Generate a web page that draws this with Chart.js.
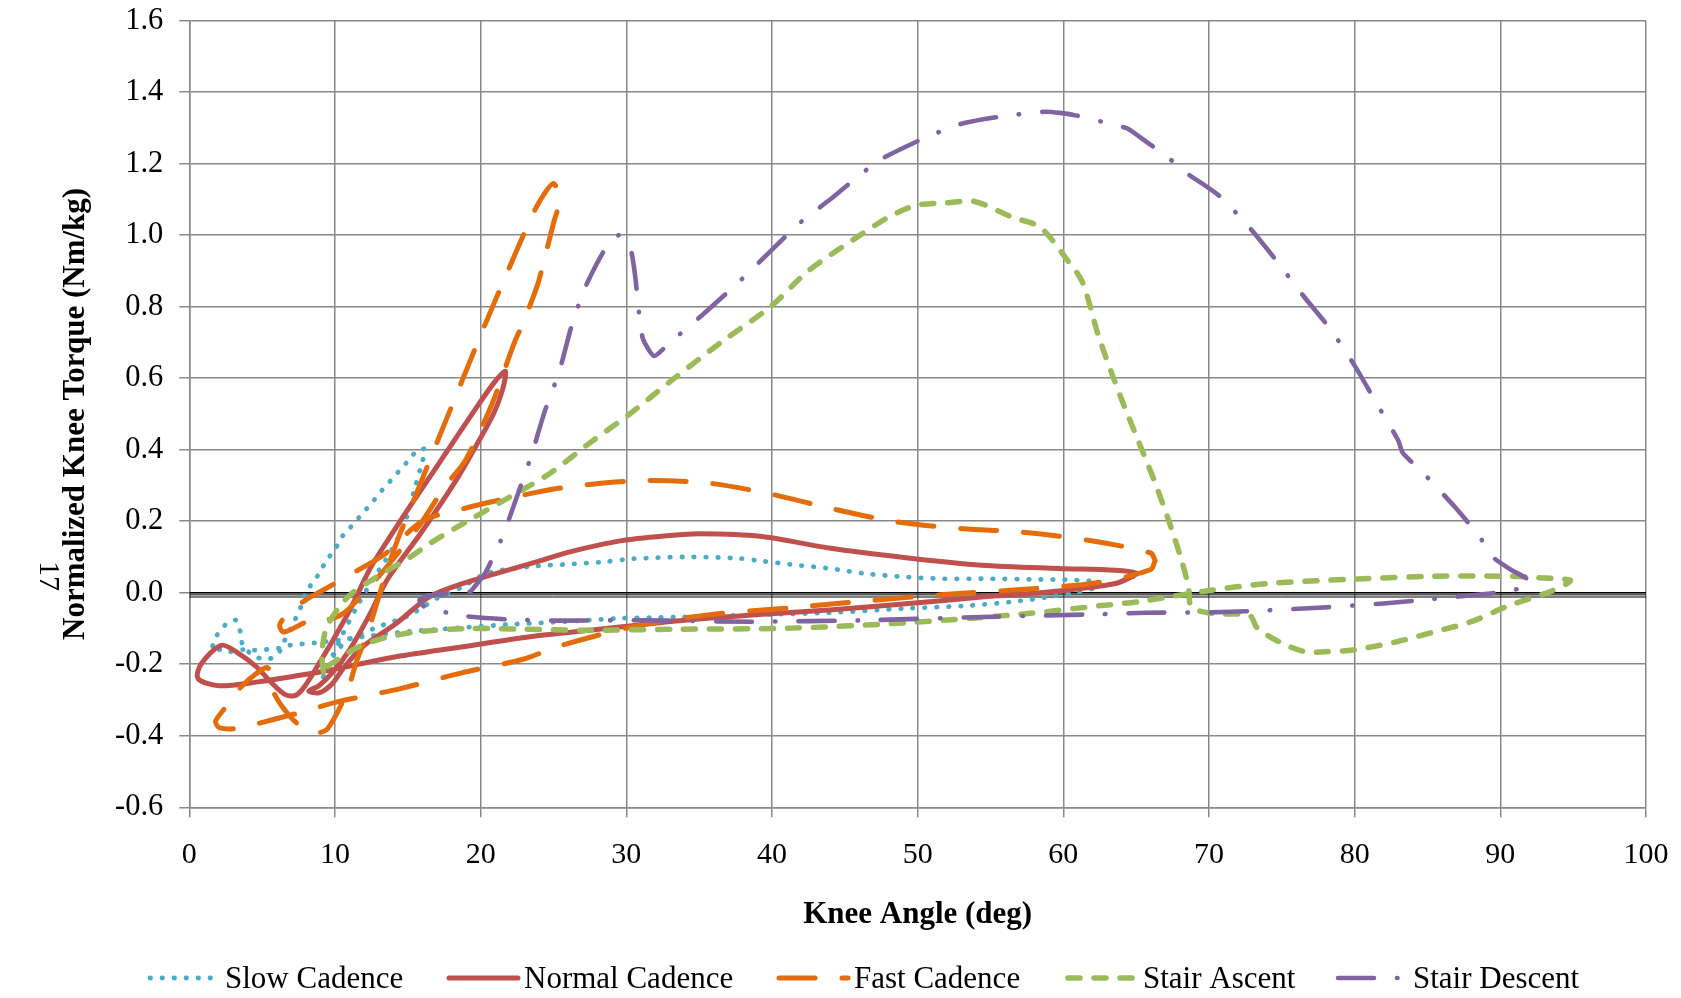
<!DOCTYPE html>
<html>
<head>
<meta charset="utf-8">
<script src="https://cdn.jsdelivr.net/npm/chart.js@4.4.1/dist/chart.umd.min.js"></script>
<style>
html,body{margin:0;padding:0;background:#ffffff;overflow:hidden}
#wrap{position:relative;width:1681px;height:998px}
canvas{display:block}
</style>
</head>
<body>
<div id="wrap"><canvas id="c" width="1681" height="998"></canvas></div>
<script>
// ---------- DATA ----------
const seriesNames = ["Slow Cadence", "Normal Cadence", "Fast Cadence", "Stair Ascent", "Stair Descent"];
const xTickValues = [0,10,20,30,40,50,60,70,80,90,100];
const yTickValues = [-0.6,-0.4,-0.2,0.0,0.2,0.4,0.6,0.8,1.0,1.2,1.4,1.6];
const xAxisTitle = "Knee Angle (deg)";
const yAxisTitle = "Normalized Knee Torque (Nm/kg)";
const pageNumber = "17";

const slowAngle = [1.6,1.9,2.5,3.2,3.5,3.7,4.5,5.3,6.1,6.5,6.9,7.3,7.7,8.0,8.5,9.0,9.4,10.0,10.4,11.0,11.6,12.2,12.7,13.3,13.9,14.5,15.1,15.7,16.2,16.0,15.5,15.0,14.3,13.5,12.5,11.5,10.6,9.8,9.2,10.0,11.0,13.0,15.1,17.2,18.8,20.4,23.4,25.7,28.4,30.5,34.2,37.7,39.4,41.3,43.9,46.5,49.2,51.8,54.4,58.4,61.8,62.6,60.7,57.0,53.1,49.2,43.9,38.6,33.4,29.4,25.7,22.3,18.6,14.9,12.5,10.5,8.7,6.9,6.1,5.2,4.2,3.7,2.5,1.6];
const slowTorque = [-0.149,-0.119,-0.089,-0.077,-0.109,-0.15,-0.177,-0.187,-0.17,-0.137,-0.105,-0.072,-0.035,0.0,0.03,0.059,0.09,0.12,0.152,0.18,0.208,0.236,0.26,0.29,0.317,0.345,0.372,0.40,0.40,0.367,0.295,0.22,0.15,0.093,0.03,-0.04,-0.11,-0.18,-0.235,-0.17,-0.13,-0.095,-0.063,-0.011,0.017,0.054,0.073,0.079,0.086,0.095,0.1,0.096,0.088,0.079,0.068,0.053,0.044,0.039,0.039,0.037,0.033,0.02,0.0,-0.023,-0.037,-0.044,-0.056,-0.062,-0.068,-0.072,-0.081,-0.088,-0.098,-0.109,-0.12,-0.131,-0.14,-0.147,-0.156,-0.159,-0.161,-0.159,-0.165,-0.149];

const normalAngle = [64.8,63.5,59.7,54.4,49.2,43.9,38.6,33.4,27.5,23.4,18.8,14.2,9.6,7.6,4.6,2.0,0.6,0.8,2.2,3.4,4.6,5.7,6.6,7.3,7.9,8.9,9.9,11.0,11.6,12.5,14.7,17.0,19.3,20.9,21.7,21.5,20.9,19.8,18.2,15.9,13.6,12.4,11.0,9.9,8.9,8.2,8.9,9.8,10.6,11.9,14.2,16.5,18.8,21.1,24.3,26.2,29.6,33.0,35.0,39.2,43.9,49.2,54.4,59.7,63.6,65.0,64.8];
const normalTorque = [0.046,0.025,0.005,-0.012,-0.031,-0.048,-0.062,-0.079,-0.105,-0.123,-0.151,-0.179,-0.217,-0.231,-0.25,-0.26,-0.24,-0.2,-0.147,-0.17,-0.207,-0.254,-0.285,-0.287,-0.263,-0.198,-0.13,-0.05,0.0,0.074,0.214,0.353,0.493,0.586,0.619,0.567,0.502,0.419,0.307,0.167,0.037,-0.06,-0.16,-0.22,-0.26,-0.275,-0.28,-0.255,-0.21,-0.151,-0.086,-0.011,0.026,0.054,0.092,0.115,0.145,0.16,0.165,0.158,0.125,0.098,0.077,0.068,0.063,0.055,0.046];

const fastAngle = [66.3,66.0,62.3,57.1,51.8,46.5,41.3,36.0,30.7,25.5,22.9,18.7,14.5,10.3,7.6,6.1,3.3,2.1,1.8,2.5,3.4,4.6,5.4,5.8,7.0,8.1,8.8,9.5,10.8,11.5,12.3,13.5,14.3,15.1,16.7,18.2,20.0,21.7,23.4,24.1,25.0,25.4,25.0,24.3,23.9,22.9,22.3,20.9,19.7,18.8,17.6,16.0,14.5,13.3,12.0,10.5,9.0,8.4,6.5,6.2,6.9,8.0,9.4,10.8,12.4,13.5,16.0,18.8,22.0,25.5,30.7,35.5,39.9,43.9,48.6,53.1,57.1,61.8,66.0,66.3];
const fastTorque = [0.09,0.065,0.028,0.009,-0.005,-0.023,-0.042,-0.06,-0.093,-0.148,-0.186,-0.224,-0.268,-0.304,-0.335,-0.351,-0.379,-0.378,-0.36,-0.32,-0.27,-0.226,-0.21,-0.28,-0.35,-0.385,-0.392,-0.38,-0.28,-0.19,-0.105,0.054,0.148,0.227,0.39,0.54,0.72,0.884,1.042,1.098,1.144,1.098,1.033,0.921,0.86,0.753,0.698,0.54,0.43,0.36,0.3,0.2,0.12,0.06,0.0,-0.06,-0.08,-0.075,-0.11,-0.09,-0.053,-0.02,0.012,0.045,0.082,0.11,0.2,0.235,0.265,0.293,0.313,0.307,0.276,0.237,0.198,0.179,0.17,0.146,0.111,0.09];

const ascentAngle = [9.2,9.1,9.4,10.2,11.2,12.5,13.5,15.0,16.6,19.3,22.1,24.8,27.5,30.3,33.0,36.5,39.9,42.5,45.5,48.0,49.9,52.0,53.9,56.5,58.4,60.2,61.3,62.4,63.4,64.2,65.2,66.2,67.2,68.1,68.6,68.8,70.3,72.8,73.3,74.8,76.6,77.9,79.9,82.9,85.5,88.0,90.6,93.1,94.5,94.8,93.1,90.6,85.5,79.9,74.1,70.0,65.2,62.6,57.1,49.2,41.3,33.4,27.0,22.9,19.2,15.7,13.7,12.5,11.4,10.5,9.6,9.2];
const ascentTorque = [-0.22,-0.17,-0.1,-0.045,0.0,0.035,0.06,0.095,0.14,0.205,0.27,0.335,0.419,0.502,0.59,0.7,0.8,0.9,0.985,1.05,1.083,1.09,1.094,1.05,1.022,0.934,0.869,0.72,0.605,0.52,0.419,0.318,0.206,0.093,0.015,-0.04,-0.058,-0.064,-0.098,-0.137,-0.165,-0.165,-0.16,-0.137,-0.109,-0.081,-0.036,-0.002,0.024,0.035,0.041,0.046,0.046,0.038,0.026,0.006,-0.025,-0.036,-0.06,-0.084,-0.099,-0.102,-0.105,-0.102,-0.1,-0.109,-0.123,-0.137,-0.156,-0.179,-0.203,-0.22];

const descentAngle = [19.3,20.3,21.5,22.5,23.5,24.4,25.4,26.2,27.1,28.5,29.5,30.3,30.6,31.1,31.9,33.0,35.2,37.6,39.6,41.8,44.0,45.2,47.4,50.4,52.9,55.5,58.8,60.7,63.4,64.4,65.8,67.2,68.3,70.7,72.8,74.6,76.5,78.3,80.0,81.4,83.0,83.3,84.7,86.9,88.6,89.5,90.7,91.9,92.0,91.0,89.3,85.0,82.0,77.5,73.0,70.0,65.7,62.6,54.4,46.5,38.6,30.7,25.4,22.0,19.0,18.1,16.3,15.8,16.5,19.3];
const descentTorque = [0.003,0.054,0.157,0.27,0.386,0.507,0.619,0.74,0.847,0.958,1.0,0.958,0.888,0.716,0.662,0.7,0.776,0.864,0.943,1.03,1.10,1.14,1.21,1.27,1.31,1.33,1.345,1.336,1.309,1.298,1.258,1.217,1.178,1.11,1.02,0.93,0.829,0.739,0.635,0.537,0.425,0.391,0.335,0.239,0.155,0.099,0.065,0.037,0.017,0.009,-0.002,-0.019,-0.03,-0.042,-0.051,-0.055,-0.056,-0.06,-0.068,-0.077,-0.081,-0.077,-0.078,-0.075,-0.066,-0.058,-0.045,-0.02,-0.008,0.003];

// black reference lines drawn along zero torque
const zeroLineAngle = [0, 100];
const zeroLineLevels = [0.0, -0.006, -0.012];

// ---------- STYLES ----------
const FONT = "'Liberation Serif','Times New Roman',serif";
const seriesStyles = [
  {color:'#4BACC6', width:4.8, dash:[0.5,11.5], tension:0.3},
  {color:'#C0504D', width:5,   dash:[],        tension:0.3},
  {color:'#E46C0A', width:5,   dash:[36,27],   tension:0.3},
  {color:'#9BBB59', width:5.5, dash:[12,14],   tension:0.3},
  {color:'#8064A2', width:4.6, dash:[36,23,0.5,23], tension:0.2}
];
const seriesAngles = [slowAngle, normalAngle, fastAngle, ascentAngle, descentAngle];
const seriesTorques = [slowTorque, normalTorque, fastTorque, ascentTorque, descentTorque];

const toPoints = (xs, ys) => xs.map((x, i) => ({x: x, y: ys[i]}));

const datasets = seriesNames.map((name, i) => ({
  label: name,
  data: toPoints(seriesAngles[i], seriesTorques[i]),
  showLine: true,
  borderColor: seriesStyles[i].color,
  backgroundColor: seriesStyles[i].color,
  borderWidth: seriesStyles[i].width,
  borderDash: seriesStyles[i].dash,
  borderCapStyle: 'round',
  borderJoinStyle: 'round',
  tension: seriesStyles[i].tension,
  pointRadius: 0,
  pointHoverRadius: 0,
  fill: false,
  order: 5 - i
}));

zeroLineLevels.forEach((lvl, k) => {
  datasets.push({
    label: 'zero' + k,
    data: toPoints(zeroLineAngle, zeroLineAngle.map(() => lvl)),
    showLine: true,
    borderColor: '#000000',
    borderWidth: k === 0 ? 1.6 : 1,
    pointRadius: 0,
    tension: 0,
    fill: false,
    order: 10
  });
});

// ---------- PLUGINS ----------
const legendTextX = [225, 524, 854, 1143, 1413];
const legendPlugin = {
  id: 'customLegend',
  afterDraw(chart) {
    const ctx = chart.ctx;
    ctx.save();
    seriesNames.forEach((name, i) => {
      const st = seriesStyles[i];
      const tx = legendTextX[i];
      const x0 = tx - 75, x1 = tx - 6, ly = 978;
      ctx.beginPath();
      ctx.strokeStyle = st.color;
      ctx.lineWidth = st.width;
      ctx.lineCap = 'round';
      ctx.setLineDash(st.dash);
      ctx.moveTo(x0, ly);
      ctx.lineTo(x1, ly);
      ctx.stroke();
      ctx.setLineDash([]);
      ctx.fillStyle = '#000';
      ctx.font = "31px " + FONT;
      ctx.textAlign = 'left';
      ctx.textBaseline = 'alphabetic';
      ctx.fillText(name, tx, 988);
    });
    // rotated page number
    ctx.translate(48, 576);
    ctx.rotate(Math.PI / 2);
    ctx.font = "30px " + FONT;
    ctx.textAlign = 'center';
    ctx.textBaseline = 'middle';
    ctx.fillStyle = '#000';
    ctx.fillText(pageNumber, 0, 0);
    ctx.restore();
  }
};

const GRID = '#888888';
const fmtY = v => (Math.abs(v) < 1e-9 ? 0 : v).toFixed(1);

new Chart(document.getElementById('c'), {
  type: 'scatter',
  data: { datasets: datasets },
  options: {
    responsive: false,
    animation: false,
    devicePixelRatio: 1,
    layout: { padding: { left: 0, right: 35, top: 20.5, bottom: 0 } },
    plugins: {
      legend: { display: false },
      tooltip: { enabled: false }
    },
    scales: {
      x: {
        type: 'linear',
        min: xTickValues[0],
        max: xTickValues[xTickValues.length - 1],
        afterBuildTicks: s => { s.ticks = xTickValues.map(v => ({value: v})); },
        afterFit: s => { s.height = 998 - 807.3; s.paddingLeft = 0; s.paddingRight = 0; },
        ticks: { color: '#000', font: { family: FONT, size: 30 }, padding: 20, maxRotation: 0, autoSkip: false },
        grid: { color: GRID, lineWidth: 1.5, tickLength: 10, tickColor: GRID, drawTicks: true },
        border: { color: GRID, width: 1.5 },
        title: { display: true, text: xAxisTitle, color: '#000', font: { family: FONT, size: 31, weight: 'bold' }, padding: { top: 0, bottom: 64 } }
      },
      y: {
        type: 'linear',
        min: yTickValues[0],
        max: yTickValues[yTickValues.length - 1],
        afterBuildTicks: s => { s.ticks = yTickValues.map(v => ({value: v})); },
        afterFit: s => { s.width = 189.3; s.paddingTop = 0; s.paddingBottom = 0; },
        ticks: { color: '#000', font: { family: FONT, size: 30.5 }, padding: 16, autoSkip: false, callback: v => fmtY(v) },
        grid: { color: GRID, lineWidth: 1.5, tickLength: 10, tickColor: GRID, drawTicks: true },
        border: { color: GRID, width: 1.5 },
        title: { display: true, text: yAxisTitle, color: '#000', font: { family: FONT, size: 31, weight: 'bold' }, padding: { top: 57, bottom: 0 } }
      }
    }
  },
  plugins: [legendPlugin]
});
</script>
</body>
</html>
